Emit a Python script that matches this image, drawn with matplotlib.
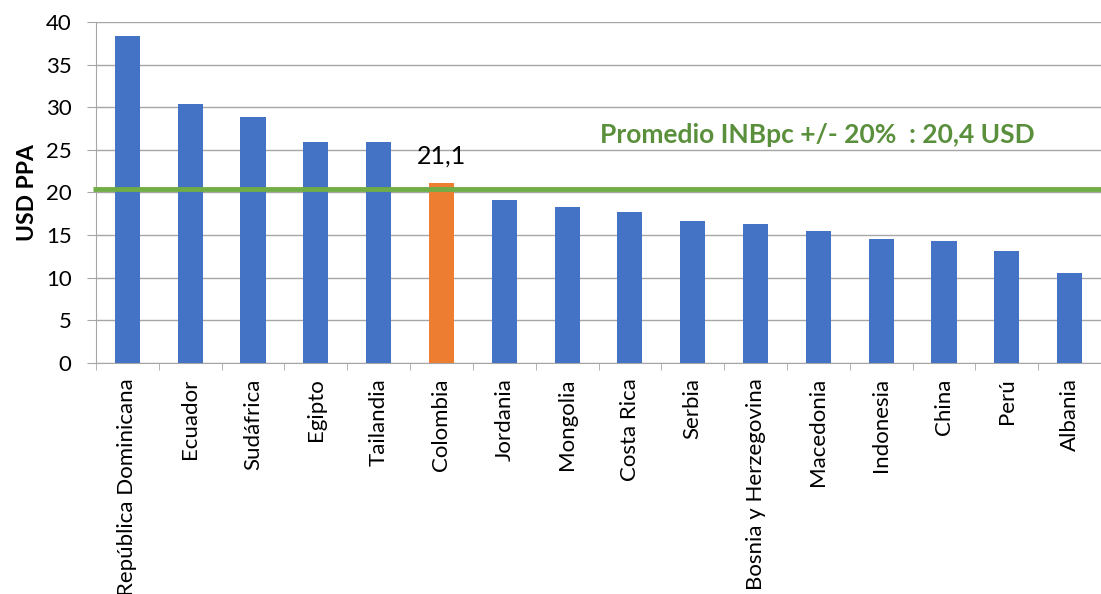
import matplotlib
matplotlib.use("Agg")
import matplotlib.pyplot as plt
import numpy as np

categories = ["República Dominicana", "Ecuador", "Sudáfrica", "Egipto", "Tailandia",
              "Colombia", "Jordania", "Mongolia", "Costa Rica", "Serbia",
              "Bosnia y Herzegovina", "Macedonia", "Indonesia", "China", "Perú", "Albania"]
values = [38.4, 30.4, 28.9, 25.9, 25.9, 21.1, 19.1, 18.3, 17.7, 16.6, 16.3, 15.5, 14.5, 14.3, 13.1, 10.5]
highlight = "Colombia"
average = 20.4
avg_label = "Promedio INBpc +/- 20%  : 20,4 USD"
colombia_label = "21,1"
yticks = [0, 5, 10, 15, 20, 25, 30, 35, 40]

plt.rcParams['font.family'] = ['Lato', 'DejaVu Sans']

fig = plt.figure(figsize=(11.01, 5.94), dpi=100)
ax = fig.add_axes([0.0872, 0.389, 0.9128, 0.574])

x = np.arange(len(categories))
colors = ["#ED7D31" if c == highlight else "#4472C4" for c in categories]
ax.bar(x, values, width=0.4, color=colors, zorder=3)

ax.set_xlim(-0.5, len(categories) - 0.5)
ax.set_ylim(0, 40)
ax.set_yticks(yticks)
ax.tick_params(axis='y', labelsize=16, length=6.5, color='#A6A6A6', pad=11)
ax.grid(axis='y', color='#A6A6A6', linewidth=1, zorder=0)

ax.set_xticks(x)
ax.set_xticklabels(categories, rotation=90, fontsize=16)
ax.tick_params(axis='x', length=0, pad=11)
ax.set_xticks(np.arange(-0.5, len(categories)), minor=True)
ax.tick_params(axis='x', which='minor', length=5, color='#A6A6A6')

for s in ['top', 'right']:
    ax.spines[s].set_visible(False)
for s in ['left', 'bottom']:
    ax.spines[s].set_color('#A6A6A6')

ax.set_ylabel("USD PPA", fontsize=16.5, fontweight='bold', labelpad=6)

ax.plot([-0.55, len(categories) - 0.5], [average, average], color="#70AD47", linewidth=3.5,
        zorder=4, clip_on=False, solid_capstyle='butt')

ax.text(14.45, 26.7, avg_label, color="#5A8F3C", fontsize=19, fontweight='bold', ha='right', va='center')
ci = categories.index(highlight)
ax.text(ci, 24.3, colombia_label, fontsize=18, ha='center', va='center')

fig.savefig("out.png", dpi=100)
